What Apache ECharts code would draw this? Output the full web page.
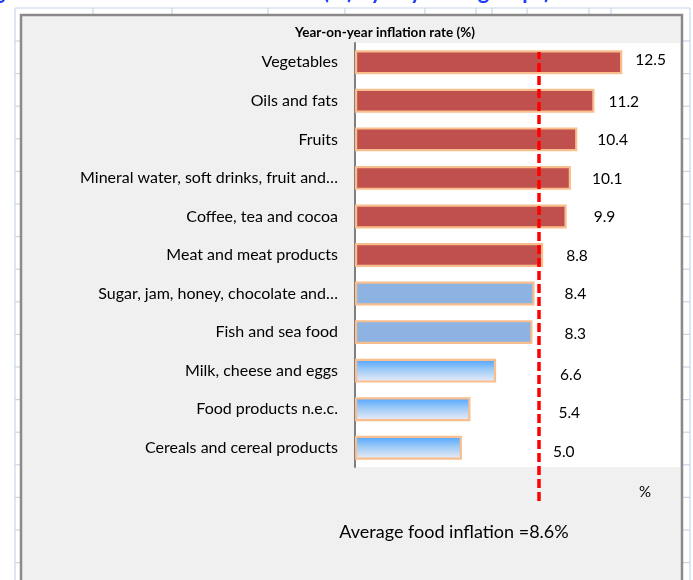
<!DOCTYPE html>
<html><head><meta charset="utf-8">
<script src="https://cdn.jsdelivr.net/npm/echarts@6/dist/echarts.min.js"></script>
<style>html,body{margin:0;padding:0;background:#fff}#c{width:693px;height:580px}</style>
</head><body><div id="c"></div>
<script>
// ---- data ----
const categories = [
  'Vegetables',
  'Oils and fats',
  'Fruits',
  'Mineral water, soft drinks, fruit and\u2026',
  'Coffee, tea and cocoa',
  'Meat and meat products',
  'Sugar, jam, honey, chocolate and\u2026',
  'Fish and sea food',
  'Milk, cheese and eggs',
  'Food products n.e.c.',
  'Cereals and cereal products'
];
const values = [12.5, 11.2, 10.4, 10.1, 9.9, 8.8, 8.4, 8.3, 6.6, 5.4, 5.0];
const barGroups = ['high','high','high','high','high','high','mid','mid','low','low','low'];
const averageFoodInflation = 8.6;
const chartTitle = 'Year-on-year inflation rate (%)';
const unitLabel = '%';
const pageHeading = 'Figure 3: Annual food inflation rate (%) by key food groups)';

// ---- label placement (styling, kept apart from data) ----
const labelGap = [13, 14, 20, 21, 27, 23, 30, 32, 64, 88, 91];
const labelShiftY = [-2, 1, 1, 1, 1, 1, 0, 2, 4, 4, 4];

const FONT = 'Lato, Calibri, "Open Sans", sans-serif';
const groupColor = {
  high: '#c0504d',
  mid: '#8db3e2',
  low: new echarts.graphic.LinearGradient(0, 0, 0, 1, [
    {offset: 0, color: '#4aa2ff'},
    {offset: 0.45, color: '#9ccaf7'},
    {offset: 1, color: '#f1eff6'}
  ])
};

const chart = echarts.init(document.getElementById('c'), null, {renderer: 'canvas'});

// spreadsheet backdrop lines (decoration)
const sheetLines = [];
const lineStyle = {stroke: '#c9d5e7', lineWidth: 1.2};
sheetLines.push({type: 'line', z: -20, shape: {x1: 15, y1: 8, x2: 15, y2: 580}, style: lineStyle});
sheetLines.push({type: 'line', z: -20, shape: {x1: 690, y1: 8, x2: 690, y2: 580}, style: lineStyle});
sheetLines.push({type: 'line', z: -20, shape: {x1: 15, y1: 8, x2: 690, y2: 8}, style: lineStyle});
[93, 172, 268, 345, 425, 476, 492, 527, 589, 611].forEach(function (x) {
  sheetLines.push({type: 'line', z: -20, shape: {x1: x, y1: 8, x2: x, y2: 15}, style: lineStyle});
});
for (let y = 41; y < 580; y += 32.6) {
  sheetLines.push({type: 'line', z: -20, shape: {x1: 15, y1: y, x2: 21, y2: y}, style: lineStyle});
  sheetLines.push({type: 'line', z: -20, shape: {x1: 682, y1: y, x2: 690, y2: y}, style: lineStyle});
}

const barData = values.map(function (v, i) {
  return {
    value: v,
    itemStyle: {color: groupColor[barGroups[i]]},
    label: {distance: labelGap[i], offset: [0, labelShiftY[i]]}
  };
});

const XMAX = 15.2;

chart.setOption({
  backgroundColor: '#ffffff',
  animation: false,
  graphic: sheetLines.concat([
    {type: 'rect', z: -10, shape: {x: 21, y: 15, width: 661, height: 580},
     style: {fill: '#f0f0f0', stroke: '#8a8a8a', lineWidth: 2.5}}
  ]),
  title: [
    {text: pageHeading, left: 545, top: -2, textAlign: 'right', textVerticalAlign: 'bottom',
     textStyle: {fontFamily: FONT, fontSize: 22, fontWeight: 'bold', color: '#1c3cf5', lineHeight: 22}},
    {text: chartTitle, left: 380, top: 28, textAlign: 'center', textVerticalAlign: 'middle',
     textStyle: {fontFamily: FONT, fontSize: 13.5, fontWeight: 'bold', color: '#000'}},
    {text: unitLabel, left: 640, top: 487, textAlign: 'center', textVerticalAlign: 'middle',
     textStyle: {fontFamily: FONT, fontSize: 15, fontWeight: 'normal', color: '#000'}},
    {text: 'Average food inflation =' + averageFoodInflation.toFixed(1) + '%', left: 449, top: 527,
     textAlign: 'center', textVerticalAlign: 'middle',
     textStyle: {fontFamily: FONT, fontSize: 18, fontWeight: 'normal', color: '#000'}}
  ],
  grid: [
    {left: 355, top: 43, width: 325, height: 424, show: true, backgroundColor: '#ffffff', borderWidth: 0, containLabel: false},
    {left: 355, top: 52, width: 325, height: 449, show: false, containLabel: false}
  ],
  xAxis: [
    {type: 'value', gridIndex: 0, min: 0, max: XMAX, show: false},
    {type: 'value', gridIndex: 1, min: 0, max: XMAX, show: false}
  ],
  yAxis: [
    {type: 'category', gridIndex: 0, data: categories, inverse: true,
     axisLine: {show: true, lineStyle: {color: '#7f7f7f', width: 2}},
     axisTick: {show: false}, splitLine: {show: false},
     axisLabel: {fontFamily: FONT, fontSize: 16, color: '#000', margin: 17}},
    {type: 'value', gridIndex: 1, min: 0, max: 1, show: false}
  ],
  series: [
    {type: 'bar', xAxisIndex: 0, yAxisIndex: 0, data: barData, barWidth: '62%',
     itemStyle: {borderColor: '#f9be8e', borderWidth: 2.2},
     label: {show: true, position: 'right', fontFamily: FONT, fontSize: 15.5, color: '#000',
             formatter: function (p) { return p.value.toFixed(1); }},
     emphasis: {disabled: true}},
    {type: 'line', xAxisIndex: 1, yAxisIndex: 1, z: 10, silent: true,
     data: [[averageFoodInflation, 0.5]], showSymbol: false, symbol: 'none',
     lineStyle: {opacity: 0},
     markLine: {symbol: 'none', silent: true, label: {show: false},
                lineStyle: {color: '#ff0000', type: [9, 4], width: 3.5},
                emphasis: {disabled: true},
                data: [{xAxis: averageFoodInflation}]}}
  ]
});
</script>
</body></html>
